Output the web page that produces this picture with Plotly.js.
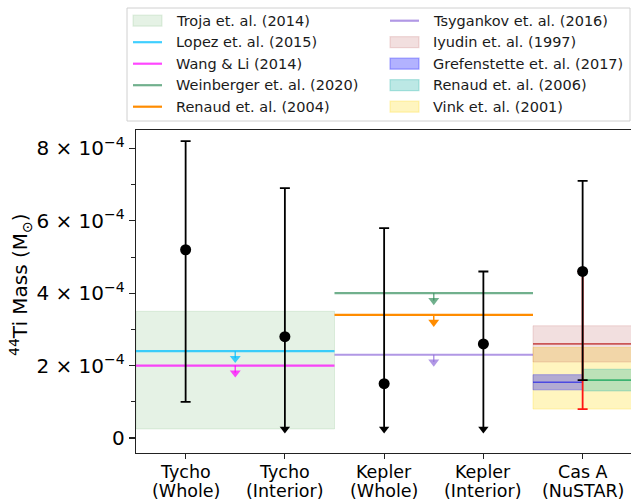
<!DOCTYPE html>
<html>
<head>
<meta charset="utf-8">
<script src="https://cdn.plot.ly/plotly-3.0.1.min.js"></script>
<style>
  html, body { margin: 0; padding: 0; background: #fff; overflow: hidden; }
  #chart { width: 631px; height: 500px; }
</style>
</head>
<body>
<div id="chart"></div>
<script>
// ---- Remnants on the x axis (name, region) ----
const remnantNames   = ['Tycho', 'Tycho', 'Kepler', 'Kepler', 'Cas A'];
const remnantRegions = ['(Whole)', '(Interior)', '(Whole)', '(Interior)', '(NuSTAR)'];

// ---- Measured 44Ti masses (solar masses) and error-bar ends ----
const tiMass     = [5.2e-4, 2.8e-4, 1.5e-4, 2.6e-4, 4.6e-4];
const tiMassHigh = [8.2e-4, 6.9e-4, 5.8e-4, 4.6e-4, 7.1e-4];
const tiMassLow  = [1.0e-4, 0.25e-4, 0.25e-4, 0.25e-4, 1.6e-4];
const isUpperLimit = [false, true, true, true, false];
// Cas A lower bound including systematics (red bar)
const casASystLow = 0.8e-4;

// ---- Literature values ----
const litLabels = ['Troja et. al. (2014)', 'Lopez et. al. (2015)', 'Wang & Li (2014)',
  'Weinberger et. al. (2020)', 'Renaud et. al. (2004)', 'Tsygankov et. al. (2016)',
  'Iyudin et. al. (1997)', 'Grefenstette et. al. (2017)', 'Renaud et. al. (2006)', 'Vink et. al. (2001)'];
const litKind  = ['band', 'limit', 'limit', 'limit', 'limit', 'limit', 'band', 'band', 'band', 'band'];
const litValue = [null, 2.4e-4, 2.0e-4, 4.0e-4, 3.4e-4, 2.3e-4, 2.6e-4, 1.54e-4, 1.6e-4, null];
const litLow   = [0.25e-4, null, null, null, null, null, 2.1e-4, 1.33e-4, 1.3e-4, 0.8e-4];
const litHigh  = [3.5e-4, null, null, null, null, null, 3.1e-4, 1.75e-4, 1.9e-4, 2.5e-4];
// first / last remnant index each value refers to; 'left'/'right' = half of a single remnant
const litFirst = [0, 0, 0, 2, 2, 2, 4, 4, 4, 4];
const litLast  = [1, 1, 1, 3, 3, 3, 4, 4, 4, 4];
const litHalf  = [null, null, null, null, null, null, null, 'left', 'right', null];

// ---- Y tick labels ----
const yTickVals = [0, 2e-4, 4e-4, 6e-4, 8e-4];
const yTickText = ['0', '2 × 10<sup>−4</sup>', '4 × 10<sup>−4</sup>', '6 × 10<sup>−4</sup>', '8 × 10<sup>−4</sup>'];
const yMinorVals = [1e-4, 3e-4, 5e-4, 7e-4];
const yTitle = '<sup>44</sup>Ti Mass (M<sub>⊙</sub>)';

// ---- Styling ----
const FONT = 'DejaVu Sans, sans-serif';
const litStyle = {
  'Troja et. al. (2014)':        {fill: 'rgba(0,128,0,0.10)'},
  'Lopez et. al. (2015)':        {line: 'rgba(0,191,255,0.75)'},
  'Wang & Li (2014)':            {line: 'rgba(255,0,255,0.72)'},
  'Weinberger et. al. (2020)':   {line: 'rgba(46,139,87,0.68)'},
  'Renaud et. al. (2004)':       {line: 'rgb(255,140,0)'},
  'Tsygankov et. al. (2016)':    {line: 'rgba(147,112,219,0.72)'},
  'Iyudin et. al. (1997)':       {fill: 'rgba(165,42,42,0.15)', line: 'rgba(190,40,40,0.75)'},
  'Grefenstette et. al. (2017)': {fill: 'rgba(0,0,255,0.30)', line: 'rgba(40,40,230,0.75)'},
  'Renaud et. al. (2006)':       {fill: 'rgba(32,178,170,0.30)', line: 'rgb(60,179,113)'},
  'Vink et. al. (2001)':         {fill: 'rgba(255,215,0,0.25)'}
};
const limitArrowLen = 0.2e-4;   // length of the downward "upper limit" arrows

function litSpan(i) {
  let x0 = litFirst[i] - 0.5, x1 = litLast[i] + 0.5;
  if (litHalf[i] === 'left') x1 = litFirst[i];
  if (litHalf[i] === 'right') x0 = litFirst[i];
  return [x0, x1];
}

const traces = [];

// shaded ranges (drawn first, bottom-most); Vink under the other Cas A ranges
const bandOrder = [0, 9, 6, 7, 8];
bandOrder.forEach(i => {
  const [x0, x1] = litSpan(i);
  const st = litStyle[litLabels[i]];
  traces.push({
    type: 'scatter', mode: 'lines', name: litLabels[i], showlegend: false,
    x: [x0, x1, x1, x0, x0], y: [litLow[i], litLow[i], litHigh[i], litHigh[i], litLow[i]],
    fill: 'toself', fillcolor: st.fill, line: {color: st.fill, width: 1}, hoverinfo: 'skip'
  });
});
// central values of the ranges
bandOrder.forEach(i => {
  if (litValue[i] === null) return;
  const [x0, x1] = litSpan(i);
  traces.push({
    type: 'scatter', mode: 'lines', showlegend: false,
    x: [x0, x1], y: [litValue[i], litValue[i]],
    line: {color: litStyle[litLabels[i]].line, width: 1.6}, hoverinfo: 'skip'
  });
});
// upper-limit lines with their arrows
litKind.forEach((k, i) => {
  if (k !== 'limit') return;
  const [x0, x1] = litSpan(i);
  const col = litStyle[litLabels[i]].line;
  traces.push({
    type: 'scatter', mode: 'lines', showlegend: false,
    x: [x0, x1], y: [litValue[i], litValue[i]],
    line: {color: col, width: 2.2}, hoverinfo: 'skip'
  });
  const mid = (x0 + x1) / 2;
  traces.push({
    type: 'scatter', mode: 'lines', showlegend: false,
    x: [mid, mid], y: [litValue[i], litValue[i] - limitArrowLen],
    line: {color: col, width: 1.5}, hoverinfo: 'skip'
  });
  traces.push({
    type: 'scatter', mode: 'markers', showlegend: false,
    x: [mid], y: [litValue[i] - limitArrowLen],
    marker: {symbol: 'triangle-down', size: 9.5, color: col, line: {width: 0}},
    hoverinfo: 'skip'
  });
});

// Cas A systematic range (red, beneath the black bar)
const casIdx = remnantNames.length - 1;
traces.push({
  type: 'scatter', mode: 'markers', showlegend: false,
  x: [casIdx], y: [tiMass[casIdx]],
  marker: {size: 1, color: 'rgba(0,0,0,0)'},
  error_y: {type: 'data', symmetric: false, array: [0], arrayminus: [tiMass[casIdx] - casASystLow],
            color: 'rgb(255,20,20)', thickness: 1.8, width: 5},
  hoverinfo: 'skip'
});

// lower stems ending in arrows for the upper limits
const limIdx = tiMass.map((_, i) => i).filter(i => isUpperLimit[i]);
traces.push({
  type: 'scatter', mode: 'markers', showlegend: false,
  x: limIdx, y: limIdx.map(i => tiMassLow[i]),
  marker: {symbol: 'triangle-down', size: 9, color: '#000', line: {width: 0}},
  error_y: {type: 'data', symmetric: false, array: limIdx.map(i => tiMass[i] - tiMassLow[i]),
            arrayminus: limIdx.map(() => 0), color: '#000', thickness: 1.8, width: 0},
  hoverinfo: 'skip'
});
// measured values
traces.push({
  type: 'scatter', mode: 'markers', showlegend: false,
  x: tiMass.map((_, i) => i), y: tiMass,
  marker: {symbol: 'circle', size: 11, color: '#000', line: {width: 0}},
  error_y: {type: 'data', symmetric: false,
            array: tiMass.map((v, i) => tiMassHigh[i] - v),
            arrayminus: tiMass.map((v, i) => isUpperLimit[i] ? 0 : v - tiMassLow[i]),
            color: '#000', thickness: 1.8, width: 5},
  hoverinfo: 'skip'
});

// ---- Page geometry helpers (pixels -> paper fractions) ----
const M = {l: 136, r: 0, t: 130, b: 47};
const W = 631, H = 500;
const pw = W - M.l - M.r, ph = H - M.t - M.b;
const px = p => (p - M.l) / pw;
const py = p => (H - M.b - p) / ph;

// ---- Legend (two columns, above the axes) ----
const shapes = [{
  type: 'rect', xref: 'paper', yref: 'paper',
  x0: px(127), x1: px(630), y0: py(121), y1: py(8),
  line: {color: '#d0d0d0', width: 1}, fillcolor: 'rgba(255,255,255,0.8)'
}];
const annotations = [];
litLabels.forEach((lab, i) => {
  const col = i < 5 ? 0 : 1, row = i % 5;
  const sx = col === 0 ? 133 : 390;
  const tx = col === 0 ? 174 : 431;
  const ry = 20.7 + row * 21.5;
  const st = litStyle[lab];
  if (litKind[i] === 'band') {
    shapes.push({type: 'rect', xref: 'paper', yref: 'paper',
      x0: px(sx), x1: px(sx + 29), y0: py(ry + 5.5), y1: py(ry - 5.5),
      fillcolor: st.fill, line: {color: st.fill, width: 1.2}});
  } else {
    shapes.push({type: 'line', xref: 'paper', yref: 'paper',
      x0: px(sx), x1: px(sx + 29), y0: py(ry), y1: py(ry),
      line: {color: st.line, width: 2.2}});
  }
  annotations.push({xref: 'paper', yref: 'paper', x: px(tx), y: py(ry),
    xanchor: 'left', yanchor: 'middle', showarrow: false, text: lab,
    font: {family: FONT, size: 14.5, color: '#1a1a1a'}});
});

// ---- X category labels (two lines each, placed on the x scale) ----
remnantNames.forEach((nm, i) => {
  annotations.push({xref: 'x', yref: 'paper', x: i, y: py(471.5),
    xanchor: 'center', yanchor: 'middle', showarrow: false, text: nm,
    font: {family: FONT, size: 17.5, color: '#000'}});
  annotations.push({xref: 'x', yref: 'paper', x: i, y: py(491),
    xanchor: 'center', yanchor: 'middle', showarrow: false, text: remnantRegions[i],
    font: {family: FONT, size: 17.5, color: '#000'}});
});

// ---- Y axis title ----
annotations.push({xref: 'paper', yref: 'paper', x: px(20), y: py(285),
  xanchor: 'center', yanchor: 'middle', textangle: -90, showarrow: false, text: yTitle,
  font: {family: FONT, size: 20, color: '#000'}});

const layout = {
  width: W, height: H,
  margin: {l: M.l, r: M.r, t: M.t, b: M.b, pad: 0},
  paper_bgcolor: '#fff', plot_bgcolor: '#fff',
  showlegend: false,
  font: {family: FONT, color: '#000'},
  xaxis: {
    range: [-0.5, -0.5 + pw / 99.25], tickmode: 'array',
    tickvals: remnantNames.map((_, i) => i), showticklabels: false,
    ticks: 'outside', ticklen: 5, tickwidth: 1.2, tickcolor: '#222',
    showline: true, linecolor: '#222', linewidth: 1.3, mirror: true,
    showgrid: false, zeroline: false
  },
  yaxis: {
    range: [-0.414e-4, 8.508e-4], tickmode: 'array', tickvals: yTickVals, ticktext: yTickText,
    ticks: 'outside', ticklen: 6, tickwidth: 1.2, tickcolor: '#222',
    showline: true, linecolor: '#222', linewidth: 1.3,
    showgrid: false, zeroline: false, tickfont: {family: FONT, size: 20, color: '#000'},
    minor: {tickmode: 'array', tickvals: yMinorVals, ticks: 'outside', ticklen: 4, tickwidth: 1, tickcolor: '#222', showgrid: false}
  },
  shapes: shapes,
  annotations: annotations
};

Plotly.newPlot('chart', traces, layout, {displayModeBar: false, staticPlot: true});
</script>
</body>
</html>
